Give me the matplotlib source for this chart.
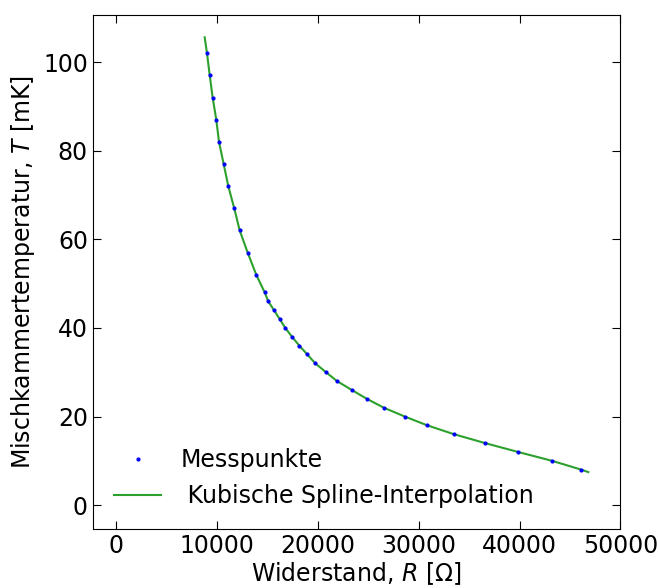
import numpy as np
import matplotlib.pyplot as plt

# Messpunkte
R_mess = [9020, 9290, 9580, 9940, 10210, 10670, 11130, 11720, 12260, 13050,
          13900, 14740, 15090, 15660, 16220, 16780, 17440, 18170, 18960, 19750,
          20810, 21900, 23360, 24850, 26530, 28610, 30850, 33500, 36570, 39840,
          43210, 46120]
T_mess = [102, 97, 92, 87, 82, 77, 72, 67, 62, 57,
          52, 48, 46, 44, 42, 40, 38, 36, 34, 32,
          30, 28, 26, 24, 22, 20, 18, 16, 14, 12,
          10, 8]

# spline curve as drawn (ends extend slightly past the data)
R_spline = [8790] + R_mess + [46810]
T_spline = [105.6] + T_mess + [7.45]

fig = plt.figure(figsize=(6.58, 5.88), dpi=100)
ax = fig.add_axes([0.141, 0.1003, 0.802, 0.8747])

ax.plot(R_mess, T_mess, 'b.', markersize=4, label='Messpunkte', zorder=3)
ax.plot(R_spline, T_spline, color='tab:green', lw=1.5,
        label=' Kubische Spline-Interpolation', zorder=2)

ax.set_xlim(-2300, 50000)
ax.set_ylim(-5.4, 110.7)
ax.set_xticks([0, 10000, 20000, 30000, 40000, 50000])
ax.set_yticks([0, 20, 40, 60, 80, 100])
ax.tick_params(direction='in', top=True, right=True, labelsize=17, length=6)
ax.set_xlabel(r"Widerstand, $R$ [Ω]", fontsize=17, labelpad=2)
ax.set_ylabel(r"Mischkammertemperatur, $T$ [mK]", fontsize=17)
ax.legend(loc='lower left', frameon=False, fontsize=17)

plt.savefig("out.png")
